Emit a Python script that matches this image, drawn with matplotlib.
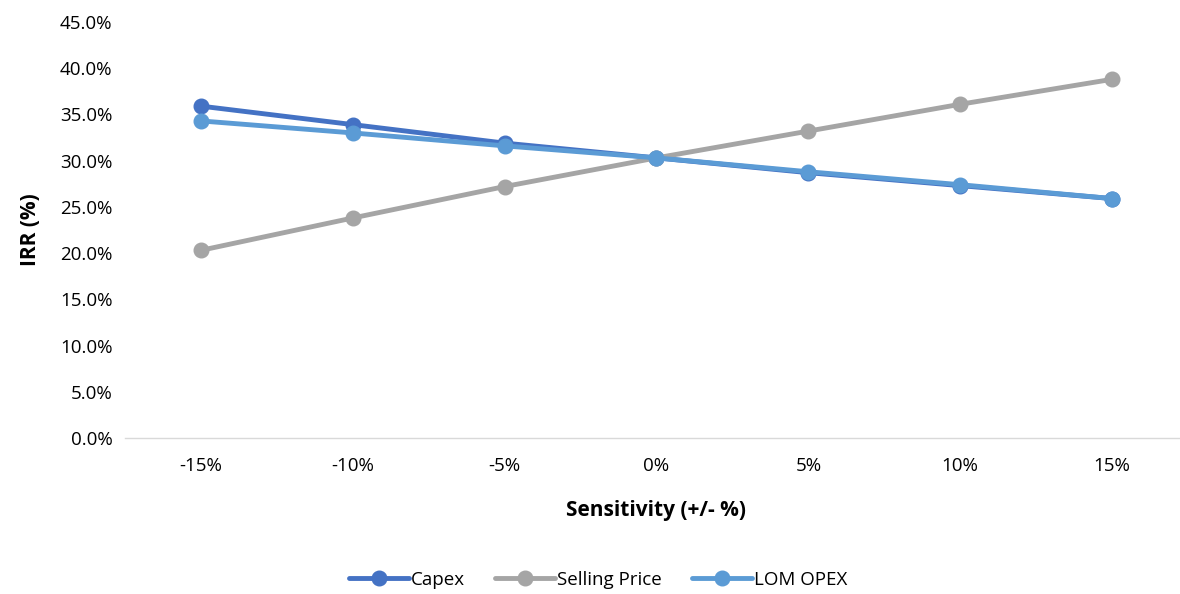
import matplotlib
matplotlib.use("Agg")
import matplotlib.pyplot as plt
from matplotlib.ticker import PercentFormatter

categories = ["-15%", "-10%", "-5%", "0%", "5%", "10%", "15%"]
capex = [35.9, 33.9, 31.9, 30.3, 28.7, 27.3, 25.9]
selling_price = [20.3, 23.8, 27.2, 30.3, 33.2, 36.1, 38.8]
lom_opex = [34.3, 33.0, 31.6, 30.3, 28.8, 27.4, 25.9]

plt.rcParams['font.family'] = ['Open Sans', 'DejaVu Sans']

fig = plt.figure(figsize=(11.8, 5.94), dpi=100)
ax = fig.add_axes([125/1180, (594-438)/594, (1188-125)/1180, (438-22)/594])

x = list(range(len(categories)))
series = [("Capex", capex, "#4472C4"),
          ("Selling Price", selling_price, "#A5A5A5"),
          ("LOM OPEX", lom_opex, "#5B9BD5")]
for name, vals, col in series:
    ax.plot(x, vals, color=col, lw=3.5, marker='o', ms=10.5, label=name,
            solid_capstyle='round')

ax.set_xlim(-0.5, len(categories) - 0.5)
ax.set_ylim(0, 45)
ax.set_yticks([i * 5 for i in range(10)])
ax.yaxis.set_major_formatter(PercentFormatter(decimals=1))
ax.set_xticks(x)
ax.set_xticklabels(categories)

for s in ['top', 'right', 'left']:
    ax.spines[s].set_visible(False)
ax.spines['bottom'].set_color('#D9D9D9')
ax.spines['bottom'].set_linewidth(1)
ax.tick_params(axis='both', length=0, labelsize=13.5, labelcolor='#000000')
ax.tick_params(axis='y', pad=9)
ax.tick_params(axis='x', pad=14)

ax.set_xlabel("Sensitivity (+/- %)", fontsize=15, fontweight='bold', labelpad=18)
ax.set_ylabel("IRR (%)", fontsize=15, fontweight='bold', labelpad=14)

fig.legend(loc='center', bbox_to_anchor=(598/1180, 1 - 580/594), ncol=3, frameon=False,
           fontsize=13.5, handlelength=3.2, columnspacing=1.6, handletextpad=0.1)

fig.savefig("out.png", dpi=100)
